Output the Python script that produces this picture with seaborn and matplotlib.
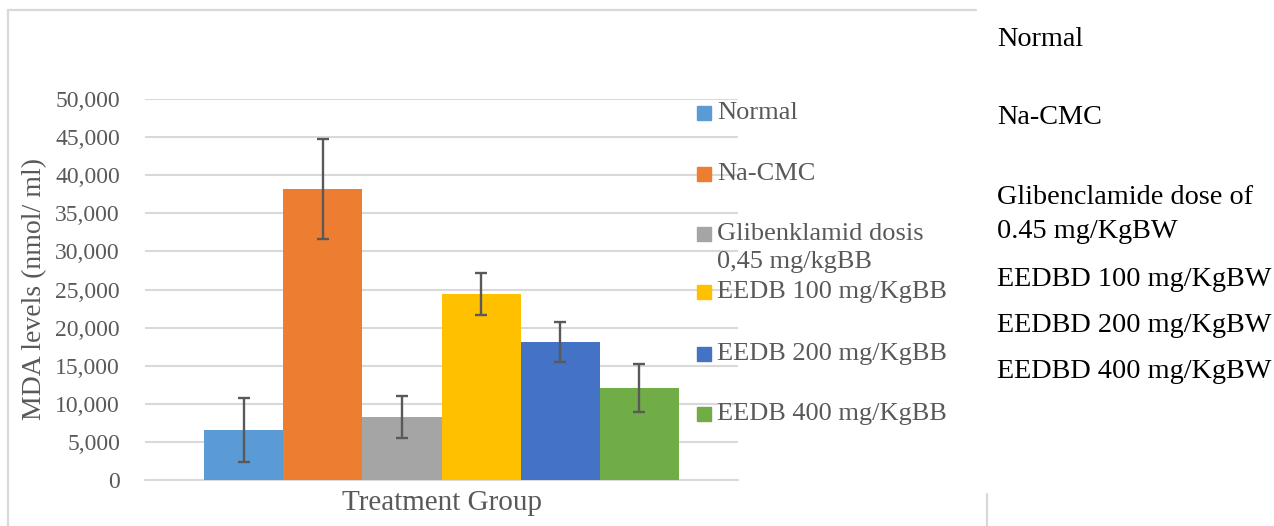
import numpy as np
import pandas as pd
import matplotlib
matplotlib.use('Agg')
import matplotlib.pyplot as plt
from matplotlib.ticker import FuncFormatter
from matplotlib.patches import Rectangle
import seaborn as sns

# 数据
groups = ['Normal', 'Na-CMC', 'Glibenklamid dosis\n0,45 mg/kgBB',
          'EEDB 100 mg/KgBB', 'EEDB 200 mg/KgBB', 'EEDB 400 mg/KgBB']
mda_mean = [6560, 38200, 8270, 24400, 18100, 12070]
mda_err = [4250, 6600, 2780, 2800, 2620, 3170]
category = ['Treatment Group'] * 6
colors = ['#5B9BD5', '#ED7D31', '#A5A5A5', '#FFC000', '#4472C4', '#70AD47']
yticks = list(range(0, 50001, 5000))
side_notes = ['Normal', 'Na-CMC', 'Glibenclamide dose of', '0.45 mg/KgBW',
              'EEDBD 100 mg/KgBW', 'EEDBD 200 mg/KgBW', 'EEDBD 400 mg/KgBW']

df = pd.DataFrame({'cat': category, 'group': groups, 'MDA': mda_mean})

sns.set_style('white')
plt.rcParams['font.family'] = ['Liberation Serif', 'DejaVu Serif']

W, H = 1274, 526
fig = plt.figure(figsize=(W / 100, H / 100), dpi=100)
ax = fig.add_axes([145 / W, (H - 480) / H, 593 / W, 381 / H])

grey_txt = '#595959'
grid_c = '#D9D9D9'

sns.barplot(data=df, x='cat', y='MDA', hue='group', hue_order=groups,
            palette=colors, saturation=1, errorbar=None, legend=False,
            width=0.8, linewidth=0, ax=ax, zorder=2)

# 误差线
bars = [p for p in ax.patches if p.get_height() > 0]
xs = [p.get_x() + p.get_width() / 2 for p in bars]
ax.errorbar(xs, mda_mean, yerr=mda_err, fmt='none', ecolor=grey_txt,
            elinewidth=1.7, capsize=4.3, capthick=1.7, zorder=3)

ax.set_xlim(-0.5, 0.5)
ax.set_ylim(0, 50000)
ax.set_yticks(yticks)
ax.yaxis.set_major_formatter(FuncFormatter(lambda v, p: f'{v:,.0f}'))
ax.grid(axis='y', color=grid_c, lw=1.5, zorder=0)
ax.axhline(0, color=grid_c, lw=1.5, clip_on=False, zorder=1)
for s in ax.spines.values():
    s.set_visible(False)
ax.tick_params(axis='y', length=0, pad=18, labelsize=17, labelcolor=grey_txt)
ax.tick_params(axis='x', length=0, pad=7, labelsize=21, labelcolor=grey_txt)
ax.set_xlabel('')
ax.set_ylabel('MDA levels (nmol/ ml)', fontsize=20, color=grey_txt)
ax.yaxis.set_label_coords(-0.165, 0.5)

# 图例（Excel 风格）
leg_y = [113, 174, 234, 292, 354, 414]
for g, c, y in zip(groups, colors, leg_y):
    fig.patches.append(Rectangle((697 / W, (H - y - 7) / H), 14 / W, 14 / H,
                                 transform=fig.transFigure, color=c))
    for i, line in enumerate(g.split('\n')):
        fig.text(717 / W, (H - y - 28 * i) / H, line, fontsize=19,
                 color=grey_txt, ha='left', va='center')

# 边框
fig.add_artist(plt.Line2D([8 / W, 976 / W], [(H - 10) / H] * 2, color=grid_c, lw=1.6))
fig.add_artist(plt.Line2D([8 / W] * 2, [0, (H - 10) / H], color=grid_c, lw=1.6))
fig.add_artist(plt.Line2D([987 / W] * 2, [0, (H - 494) / H], color=grid_c, lw=1.6))

# 右侧英文说明
note_y = [40, 118, 197, 231, 279, 326, 372]
for t, y in zip(side_notes, note_y):
    fig.text(997 / W, (H - y) / H, t, fontsize=20.3, color='black',
             ha='left', va='center')

fig.savefig('out.png', dpi=100)
